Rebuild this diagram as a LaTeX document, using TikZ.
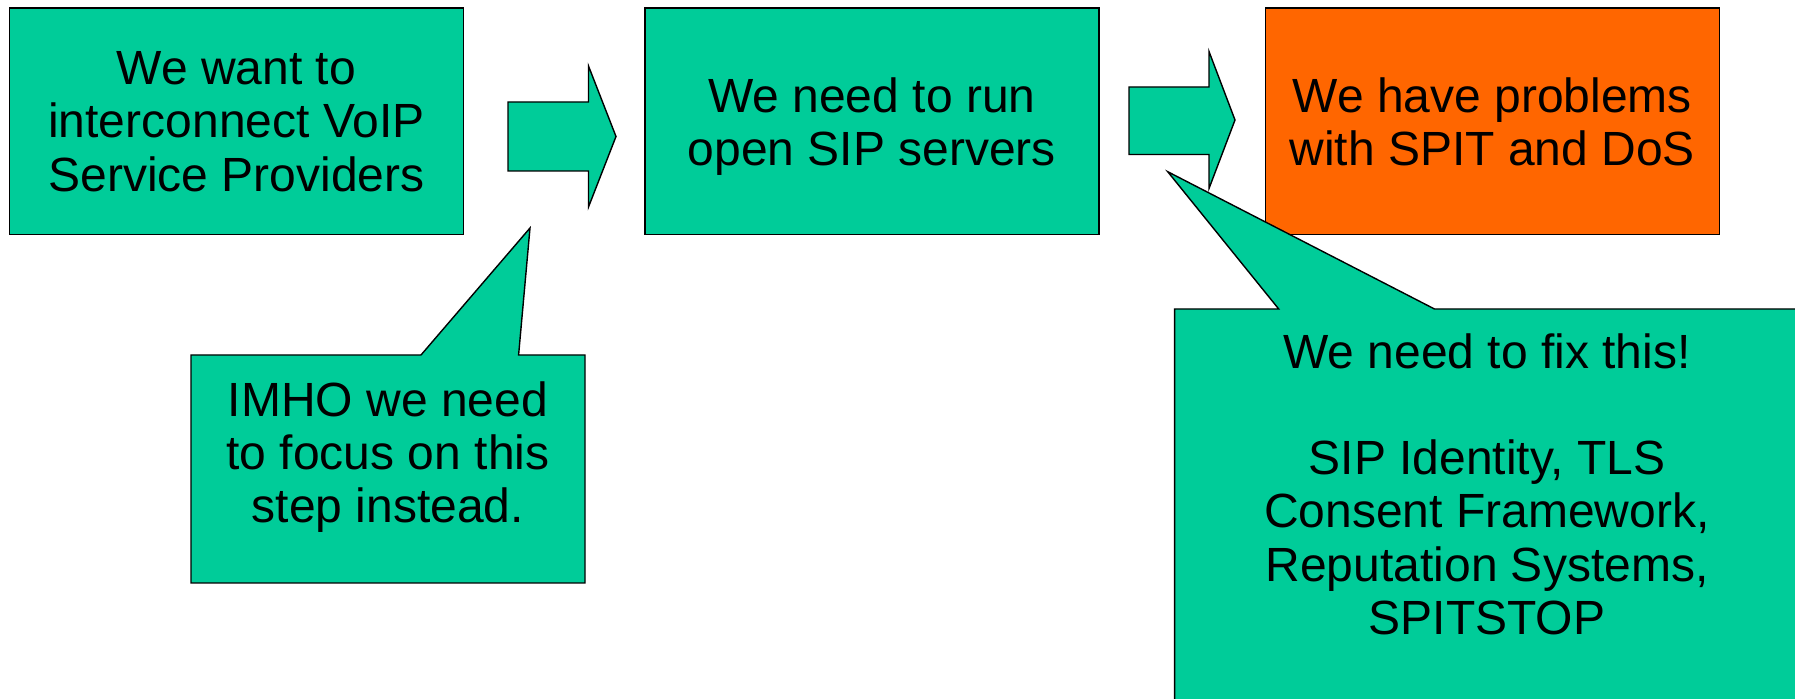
\documentclass[tikz,border=0pt]{standalone}
\usepackage{fontspec}
\setmainfont{Liberation Sans}
\definecolor{stepgreen}{HTML}{00CC99}
\definecolor{spitorange}{HTML}{FF6600}

\begin{document}
\begin{tikzpicture}[x=0.5pt,y=-0.5pt,line width=0.7pt,
  stepbox/.style={draw=black,fill=stepgreen,minimum width=227pt,minimum height=113.4pt,inner sep=0pt,text depth=0pt,align=center,font=\fontsize{24}{26.6}\selectfont},
  saytext/.style={align=center,inner sep=0pt,text depth=0pt,font=\fontsize{24}{26.6}\selectfont}]
\clip (0,0) rectangle (1795,699);

\node[stepbox] (want) at (236.4,121.4) {We want to\\interconnect VoIP\\Service Providers};
\node[stepbox] (run) at (871.8,121.4) {We need to run\\open SIP servers};
\node[stepbox,fill=spitorange] (spit) at (1492.3,121.4) {We have problems\\with SPIT and DoS};

\draw[fill=stepgreen](508,102)--(588.5,102)--(588.5,66)--(616,136.5)--(588.5,207)--(588.5,171)--(508,171)--cycle;
\draw[fill=stepgreen](1129,87)--(1209,87)--(1209,51.5)--(1235,120)--(1209,188.5)--(1209,154.5)--(1129,154.5)--cycle;

\draw[fill=stepgreen](191,355)--(421,355)--(530,228)--(518.6,355)--(585,355)--(585,583)--(191,583)--cycle;
\node[saytext] (focus) at (388,452) {IMHO we need\\to focus on this\\step instead.};

\draw[fill=stepgreen](1174.6,309)--(1278.7,309)--(1167.7,171.7)--(1434.5,309)--(1800,309)--(1800,705)--(1174.6,705)--cycle;
\node[saytext] (fix) at (1487,484) {We need to fix this!\\[26.6pt]SIP Identity, TLS\\Consent Framework,\\Reputation Systems,\\SPITSTOP};
\end{tikzpicture}
\end{document}
